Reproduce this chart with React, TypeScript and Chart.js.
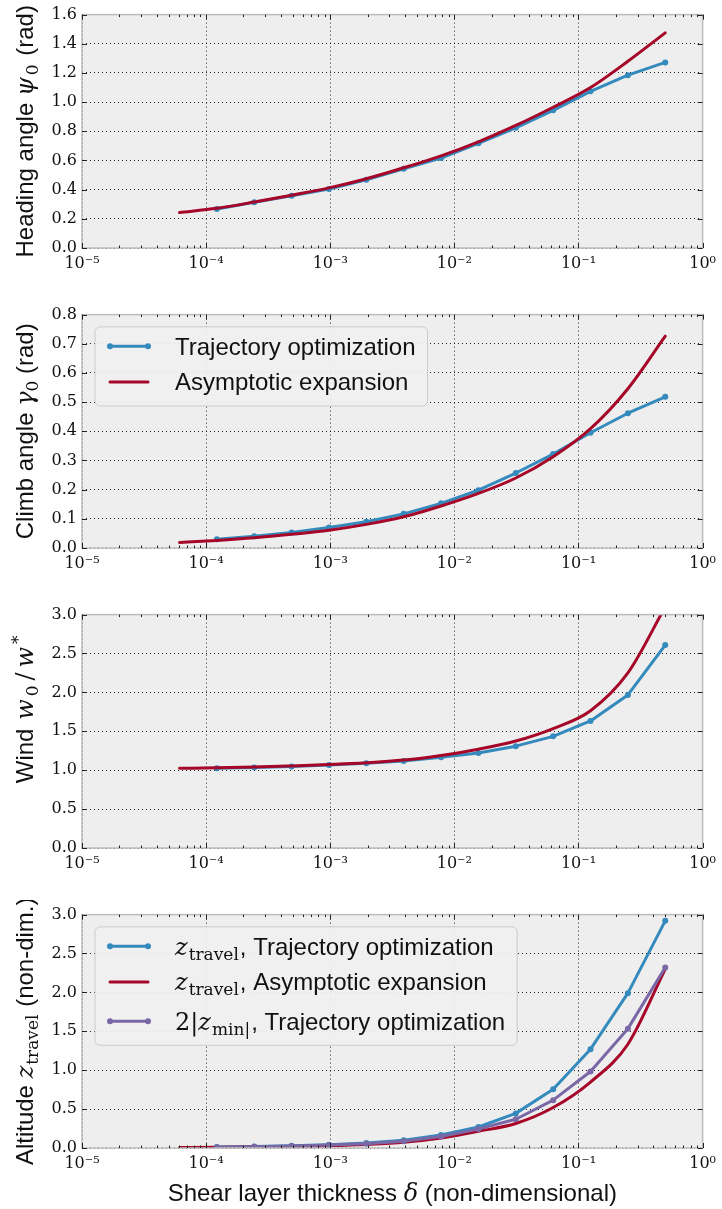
import React, { useEffect, useRef } from 'react';
import { Chart, registerables } from 'chart.js';

Chart.register(...registerables);

// ---------- data ----------
const deltaOpt = [
  0.0001220703125, 0.000244140625, 0.00048828125, 0.0009765625, 0.001953125,
  0.00390625, 0.0078125, 0.015625, 0.03125, 0.0625, 0.125, 0.25, 0.5,
];
const deltaAsym = [
  0.00006103515625, 0.0001220703125, 0.000244140625, 0.00048828125, 0.0009765625,
  0.001953125, 0.00390625, 0.0078125, 0.015625, 0.03125, 0.0625, 0.125, 0.25, 0.5,
];

const headingOpt = [0.268, 0.313, 0.358, 0.405, 0.468, 0.543, 0.617, 0.718, 0.824, 0.944, 1.074, 1.185, 1.272];
const headingAsym = [0.243, 0.272, 0.315, 0.362, 0.412, 0.475, 0.55, 0.632, 0.728, 0.84, 0.965, 1.1, 1.28, 1.475];

const climbOpt = [0.03, 0.04, 0.053, 0.07, 0.09, 0.117, 0.153, 0.198, 0.257, 0.322, 0.395, 0.462, 0.518];
const climbAsym = [0.019, 0.026, 0.035, 0.047, 0.061, 0.081, 0.107, 0.144, 0.187, 0.24, 0.313, 0.409, 0.546, 0.726];

const windOpt = [1.025, 1.035, 1.047, 1.066, 1.089, 1.119, 1.165, 1.22, 1.309, 1.435, 1.633, 1.967, 2.608];
const windAsym = [1.025, 1.03, 1.04, 1.055, 1.072, 1.095, 1.13, 1.19, 1.27, 1.375, 1.535, 1.765, 2.25, 3.1];

const altOpt = [0.012, 0.018, 0.028, 0.042, 0.064, 0.1, 0.166, 0.27, 0.445, 0.755, 1.27, 1.99, 2.92];
const altAsym = [0.006, 0.009, 0.013, 0.02, 0.03, 0.046, 0.073, 0.128, 0.215, 0.315, 0.52, 0.848, 1.334, 2.3];
const altMinOpt = [0.011, 0.016, 0.025, 0.037, 0.056, 0.088, 0.147, 0.244, 0.37, 0.615, 0.983, 1.534, 2.32];

const xTickValues = [1e-5, 1e-4, 1e-3, 1e-2, 1e-1, 1];
const xMinorFactors = [2, 3, 4, 5, 6, 7, 8, 9];
const supDigits: Record<string, string> = { '-': '\u207B', '0': '\u2070', '1': '\u00B9', '2': '\u00B2', '3': '\u00B3', '4': '\u2074', '5': '\u2075' };

// ---------- style ----------
const BLUE = '#348ABD';
const RED = '#A60628';
const PURPLE = '#7A68A6';
const SANS = '"Liberation Sans", Arial, Helvetica, sans-serif';
const SERIF = '"DejaVu Serif", "Liberation Serif", serif';
const F_SANS = `24px ${SANS}`;
const F_IT = `italic 24px ${SERIF}`;
const F_RM = `24px ${SERIF}`;
const F_SUB = `17px ${SERIF}`;

type Seg = { t: string; f: string; dy?: number; sp?: number };

function segWidth(ctx: CanvasRenderingContext2D, segs: Seg[]) {
  let w = 0;
  for (const s of segs) {
    ctx.font = s.f;
    w += ctx.measureText(s.t).width + (s.sp || 0);
  }
  return w;
}
function drawSegs(ctx: CanvasRenderingContext2D, segs: Seg[], x: number, y: number) {
  let cx = x;
  ctx.textAlign = 'left';
  ctx.textBaseline = 'alphabetic';
  for (const s of segs) {
    ctx.font = s.f;
    ctx.fillText(s.t, cx, y + (s.dy || 0));
    cx += ctx.measureText(s.t).width + (s.sp || 0);
  }
}

const zTravel: Seg[] = [
  { t: 'z', f: F_IT, sp: 1 },
  { t: 'travel', f: F_SUB, dy: 5, sp: 1 },
];

type LegendItem = { segs: Seg[]; color: string; marker: boolean };
type SeriesSpec = { xs: number[]; ys: number[]; color: string; marker: boolean; smooth: boolean; order: number };
type PanelSpec = {
  height: number;
  yMin: number;
  yMax: number;
  yStep: number;
  title: Seg[];
  titleShift: number;
  series: SeriesSpec[];
  legend: LegendItem[] | null;
  legendRows: number[];
  xTitle: boolean;
};

const panels: PanelSpec[] = [
  {
    height: 300, yMin: 0, yMax: 1.6, yStep: 0.2,
    title: [
      { t: 'Heading angle ', f: F_SANS },
      { t: '\u03C8', f: F_IT, sp: 2 },
      { t: '0', f: F_SUB, dy: 5, sp: 2 },
      { t: ' (rad)', f: F_SANS },
    ],
    titleShift: 0,
    series: [
      { xs: deltaOpt, ys: headingOpt, color: BLUE, marker: true, smooth: false, order: 3 },
      { xs: deltaAsym, ys: headingAsym, color: RED, marker: false, smooth: true, order: 2 },
    ],
    legend: null, legendRows: [], xTitle: false,
  },
  {
    height: 300, yMin: 0, yMax: 0.8, yStep: 0.1,
    title: [
      { t: 'Climb angle ', f: F_SANS },
      { t: '\u03B3', f: F_IT },
      { t: '0', f: F_SUB, dy: 5 },
      { t: ' (rad)', f: F_SANS },
    ],
    titleShift: 0,
    series: [
      { xs: deltaOpt, ys: climbOpt, color: BLUE, marker: true, smooth: false, order: 3 },
      { xs: deltaAsym, ys: climbAsym, color: RED, marker: false, smooth: true, order: 2 },
    ],
    legend: [
      { segs: [{ t: 'Trajectory optimization', f: F_SANS }], color: BLUE, marker: true },
      { segs: [{ t: 'Asymptotic expansion', f: F_SANS }], color: RED, marker: false },
    ],
    legendRows: [19.4, 55],
    xTitle: false,
  },
  {
    height: 300, yMin: 0, yMax: 3, yStep: 0.5,
    title: [
      { t: 'Wind ', f: F_SANS, sp: 2 },
      { t: 'w', f: F_IT, sp: 3 },
      { t: '0', f: F_SUB, dy: 5, sp: 5 },
      { t: '/', f: F_RM, sp: 5 },
      { t: 'w', f: F_IT, sp: 3 },
      { t: '*', f: F_SUB, dy: -9 },
    ],
    titleShift: -22,
    series: [
      { xs: deltaOpt, ys: windOpt, color: BLUE, marker: true, smooth: false, order: 3 },
      { xs: deltaAsym, ys: windAsym, color: RED, marker: false, smooth: true, order: 2 },
    ],
    legend: null, legendRows: [], xTitle: false,
  },
  {
    height: 309, yMin: 0, yMax: 3, yStep: 0.5,
    title: [
      { t: 'Altitude ', f: F_SANS },
      ...zTravel,
      { t: ' (non-dim.)', f: F_SANS },
    ],
    titleShift: 0,
    series: [
      { xs: deltaOpt, ys: altOpt, color: BLUE, marker: true, smooth: false, order: 3 },
      { xs: deltaAsym, ys: altAsym, color: RED, marker: false, smooth: true, order: 2 },
      { xs: deltaOpt, ys: altMinOpt, color: PURPLE, marker: true, smooth: false, order: 1 },
    ],
    legend: [
      { segs: [...zTravel, { t: ', Trajectory optimization', f: F_SANS }], color: BLUE, marker: true },
      { segs: [...zTravel, { t: ', Asymptotic expansion', f: F_SANS }], color: RED, marker: false },
      {
        segs: [
          { t: '2|', f: F_RM },
          { t: 'z', f: F_IT, sp: 1 },
          { t: 'min|', f: F_SUB, dy: 5, sp: 1 },
          { t: ', Trajectory optimization', f: F_SANS },
        ],
        color: PURPLE, marker: true,
      },
    ],
    legendRows: [19.4, 55, 94.4],
    xTitle: true,
  },
];

const xTitleSegs: Seg[] = [
  { t: 'Shear layer thickness ', f: F_SANS },
  { t: '\u03B4', f: F_IT },
  { t: ' (non-dimensional)', f: F_SANS },
];

const PLOT_TOP = 11;
const PLOT_H = 237;
const Y_AXIS_W = 82;
const RIGHT_PAD = 16;

function roundRect(ctx: CanvasRenderingContext2D, x: number, y: number, w: number, h: number, r: number) {
  ctx.beginPath();
  ctx.moveTo(x + r, y);
  ctx.lineTo(x + w - r, y);
  ctx.arcTo(x + w, y, x + w, y + r, r);
  ctx.lineTo(x + w, y + h - r);
  ctx.arcTo(x + w, y + h, x + w - r, y + h, r);
  ctx.lineTo(x + r, y + h);
  ctx.arcTo(x, y + h, x, y + h - r, r);
  ctx.lineTo(x, y + r);
  ctx.arcTo(x, y, x + r, y, r);
  ctx.closePath();
}

function makeDecor(p: PanelSpec) {
  return {
    id: 'decor',
    beforeDraw(chart: any) {
      const { ctx, chartArea: a } = chart;
      ctx.save();
      ctx.fillStyle = '#eeeeee';
      ctx.fillRect(a.left, a.top, a.right - a.left, a.bottom - a.top);
      ctx.restore();
    },
    afterDatasetsDraw(chart: any) {
      const { ctx, chartArea: a } = chart;
      const xs = chart.scales.x;
      const ys = chart.scales.y;
      ctx.save();
      // spines
      ctx.strokeStyle = '#bcbcbc';
      ctx.lineWidth = 1.5;
      ctx.strokeRect(a.left, a.top, a.right - a.left, a.bottom - a.top);
      // inward ticks
      ctx.strokeStyle = '#222';
      ctx.lineWidth = 1;
      ctx.beginPath();
      for (const t of ys.ticks) {
        const y = Math.round(ys.getPixelForValue(t.value)) + 0.5;
        ctx.moveTo(a.left, y); ctx.lineTo(a.left + 5, y);
        ctx.moveTo(a.right, y); ctx.lineTo(a.right - 5, y);
      }
      for (const v of xTickValues) {
        const x = Math.round(xs.getPixelForValue(v)) + 0.5;
        ctx.moveTo(x, a.bottom); ctx.lineTo(x, a.bottom - 5);
        ctx.moveTo(x, a.top); ctx.lineTo(x, a.top + 5);
        if (v < 1) {
          for (const m of xMinorFactors) {
            const xm = Math.round(xs.getPixelForValue(v * m)) + 0.5;
            ctx.moveTo(xm, a.bottom); ctx.lineTo(xm, a.bottom - 2.5);
            ctx.moveTo(xm, a.top); ctx.lineTo(xm, a.top + 2.5);
          }
        }
      }
      ctx.stroke();

      // legend
      if (p.legend) {
        let maxW = 0;
        for (const it of p.legend) maxW = Math.max(maxW, segWidth(ctx, it.segs));
        const bx = a.left + 13;
        const by = a.top + 12.3;
        const bw = 80 + maxW + 12;
        const bh = p.legendRows[p.legendRows.length - 1] + 24;
        roundRect(ctx, bx, by, bw, bh, 5);
        ctx.fillStyle = 'rgba(240,240,240,0.92)';
        ctx.fill();
        ctx.strokeStyle = '#cccccc';
        ctx.lineWidth = 1;
        ctx.stroke();
        p.legend.forEach((it, i) => {
          const ry = by + p.legendRows[i];
          const x1 = bx + 15;
          const x2 = bx + 53;
          ctx.strokeStyle = it.color;
          ctx.lineWidth = 3;
          ctx.lineCap = 'round';
          ctx.beginPath();
          ctx.moveTo(x1, ry); ctx.lineTo(x2, ry);
          ctx.stroke();
          if (it.marker) {
            ctx.fillStyle = it.color;
            for (const mx of [x1, x2]) {
              ctx.beginPath(); ctx.arc(mx, ry, 3, 0, Math.PI * 2); ctx.fill();
            }
          }
          ctx.fillStyle = '#111';
          drawSegs(ctx, it.segs, bx + 80, ry + 8.5);
        });
      }
      ctx.restore();
    },
    afterDraw(chart: any) {
      const { ctx, chartArea: a } = chart;
      ctx.save();
      ctx.fillStyle = '#111';
      const w = segWidth(ctx, p.title);
      const cy = (a.top + a.bottom) / 2 + p.titleShift;
      ctx.translate(33, cy);
      ctx.rotate(-Math.PI / 2);
      drawSegs(ctx, p.title, -w / 2, 0);
      ctx.restore();
      if (p.xTitle) {
        ctx.save();
        ctx.fillStyle = '#111';
        const wx = segWidth(ctx, xTitleSegs);
        drawSegs(ctx, xTitleSegs, (a.left + a.right) / 2 - wx / 2, a.bottom + 53);
        ctx.restore();
      }
    },
  };
}

function Panel({ spec, top }: { spec: PanelSpec; top: number }) {
  const ref = useRef<HTMLCanvasElement | null>(null);
  useEffect(() => {
    const canvas = ref.current;
    if (!canvas) return;
    const H = spec.height;
    const gridCommon = { color: 'rgba(0,0,0,0.85)', lineWidth: 1, drawTicks: false };
    const borderCommon = { display: false, dash: [1, 3] };
    const chart = new Chart(canvas, {
      type: 'line',
      data: {
        datasets: spec.series.map((s) => ({
          data: s.xs.map((x, i) => ({ x, y: s.ys[i] })),
          borderColor: s.color,
          backgroundColor: s.color,
          pointBackgroundColor: s.color,
          borderWidth: 3,
          pointRadius: s.marker ? 3 : 0,
          pointBorderWidth: 0,
          pointHoverRadius: 0,
          borderCapStyle: 'round',
          borderJoinStyle: 'round',
          cubicInterpolationMode: s.smooth ? 'monotone' : 'default',
          tension: 0,
          fill: false,
          order: s.order,
        })) as any,
      },
      options: {
        animation: false,
        responsive: false,
        devicePixelRatio: 1,
        events: [],
        layout: { padding: { top: PLOT_TOP, right: RIGHT_PAD, left: 0, bottom: 0 } },
        plugins: { legend: { display: false }, tooltip: { enabled: false } },
        scales: {
          x: {
            type: 'logarithmic',
            min: 1e-5,
            max: 1,
            afterBuildTicks: (scale: any) => {
              scale.ticks = xTickValues.map((v) => ({ value: v }));
            },
            afterFit: (scale: any) => {
              scale.height = H - PLOT_TOP - PLOT_H;
            },
            ticks: {
              autoSkip: false,
              maxRotation: 0,
              padding: 6,
              color: '#111',
              font: { family: SERIF, size: 16 },
              callback: (v: any) => {
                const e = String(Math.round(Math.log10(Number(v))));
                return '10' + e.split('').map((c) => supDigits[c] || c).join('');
              },
            },
            grid: gridCommon,
            border: borderCommon,
          } as any,
          y: {
            type: 'linear',
            min: spec.yMin,
            max: spec.yMax,
            afterFit: (scale: any) => {
              scale.width = Y_AXIS_W;
            },
            ticks: {
              stepSize: spec.yStep,
              padding: 5,
              color: '#111',
              font: { family: SERIF, size: 16 },
              callback: (v: any) => Number(v).toFixed(1),
            },
            grid: gridCommon,
            border: borderCommon,
          } as any,
        },
      },
      plugins: [makeDecor(spec)],
    });
    return () => chart.destroy();
  }, [spec]);
  return (
    <div style={{ position: 'absolute', left: 0, top, width: 722, height: spec.height }}>
      <canvas ref={ref} width={722} height={spec.height} style={{ display: 'block', width: 722, height: spec.height }} />
    </div>
  );
}

export default function App() {
  return (
    <div style={{ position: 'absolute', left: 0, top: 0, width: 722, height: 1209, background: '#ffffff' }}>
      {panels.map((p, i) => (
        <Panel key={i} spec={p} top={i * 300} />
      ))}
    </div>
  );
}
